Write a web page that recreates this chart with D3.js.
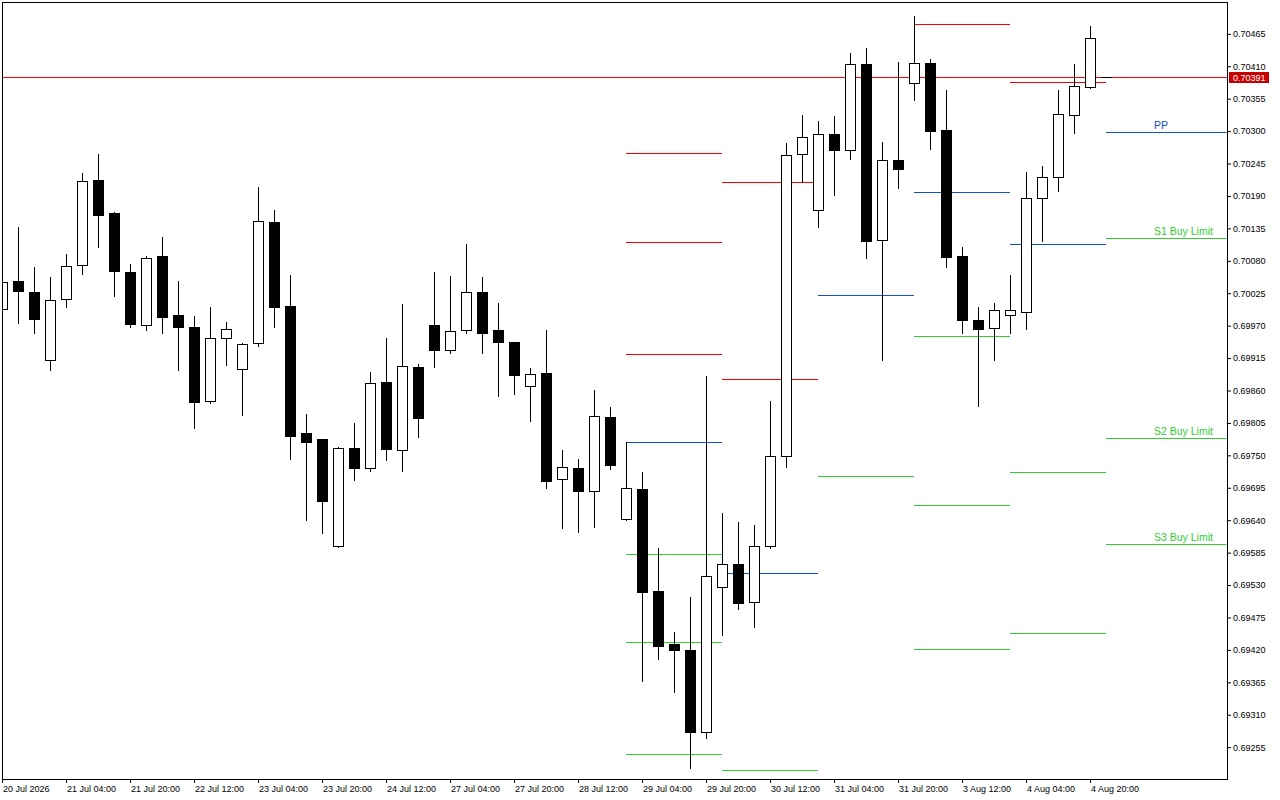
<!DOCTYPE html>
<html>
<head>
<meta charset="utf-8">
<script src="https://cdn.jsdelivr.net/npm/d3@7"></script>
<style>
html,body{margin:0;padding:0;background:#ffffff;}
svg{display:block;}
</style>
</head>
<body>
<svg id="chart" width="1280" height="800"></svg>
<script>
// ---------------- DATA ----------------
const tradingDays = ["20 Jul","21 Jul","22 Jul","23 Jul","24 Jul","27 Jul","28 Jul","29 Jul","30 Jul","31 Jul","3 Aug","4 Aug","5 Aug","6 Aug"];
const barHours = ["00:00","04:00","08:00","12:00","16:00","20:00"];

const open = [0.69998,0.70045,0.70027,0.69911,0.70015,0.70073,0.70217,0.70161,0.70061,0.69971,
0.70088,0.69988,0.69967,0.69842,0.69949,0.69896,0.69940,0.70145,0.70003,0.69788,
0.69777,0.69596,0.69762,0.69728,0.69874,0.69759,0.69900,0.69971,0.69928,0.69962,
0.70027,0.69962,0.69942,0.69867,0.69889,0.69710,0.69728,0.69689,0.69815,0.69642,
0.69693,0.69520,0.69430,0.69420,0.69280,0.69526,0.69566,0.69501,0.69596,0.69749,
0.70261,0.70166,0.70295,0.70268,0.70414,0.70115,0.70251,0.70381,0.70416,0.70302,
0.70088,0.69979,0.69966,0.69988,0.69994,0.70186,0.70222,0.70327,0.70375];

const high = [0.70048,0.70137,0.70070,0.70053,0.70091,0.70229,0.70262,0.70163,0.70074,0.70088,
0.70120,0.70045,0.69986,0.70001,0.69976,0.69940,0.70206,0.70166,0.70056,0.69820,
0.69778,0.69764,0.69805,0.69891,0.69949,0.70007,0.69905,0.70061,0.70054,0.70109,
0.70053,0.70009,0.69942,0.69898,0.69963,0.69759,0.69744,0.69861,0.69832,0.69772,
0.69722,0.69593,0.69451,0.69510,0.69885,0.69652,0.69637,0.69632,0.69842,0.70280,
0.70327,0.70317,0.70326,0.70433,0.70441,0.70282,0.70417,0.70495,0.70422,0.70370,
0.70104,0.70002,0.70009,0.70056,0.70231,0.70241,0.70370,0.70414,0.70478];

const low = [0.69995,0.69975,0.69958,0.69895,0.70002,0.70058,0.70104,0.70021,0.69968,0.69962,
0.69958,0.69895,0.69797,0.69839,0.69904,0.69819,0.69936,0.69968,0.69743,0.69641,
0.69619,0.69595,0.69709,0.69723,0.69742,0.69723,0.69781,0.69900,0.69923,0.69957,
0.69923,0.69850,0.69854,0.69808,0.69695,0.69626,0.69620,0.69629,0.69727,0.69641,
0.69368,0.69405,0.69348,0.69220,0.69270,0.69446,0.69490,0.69458,0.69592,0.69731,
0.70214,0.70138,0.70192,0.70252,0.70085,0.69911,0.70204,0.70352,0.70269,0.70070,
0.69958,0.69834,0.69911,0.69958,0.69965,0.70114,0.70199,0.70297,0.70373];

const close = [0.70044,0.70029,0.69982,0.70013,0.70071,0.70215,0.70157,0.70062,0.69973,0.70084,
0.69985,0.69967,0.69841,0.69949,0.69964,0.69939,0.70147,0.70001,0.69783,0.69773,
0.69672,0.69762,0.69728,0.69872,0.69760,0.69901,0.69814,0.69928,0.69961,0.70027,
0.69958,0.69943,0.69887,0.69888,0.69707,0.69730,0.69689,0.69816,0.69733,0.69694,
0.69519,0.69427,0.69419,0.69280,0.69545,0.69565,0.69500,0.69596,0.69749,0.70259,
0.70290,0.70295,0.70268,0.70413,0.70114,0.70251,0.70236,0.70415,0.70301,0.70087,
0.69979,0.69965,0.69996,0.69996,0.70186,0.70222,0.70329,0.70376,0.70458];

// daily pivot levels (null = outside the visible range)
const pivotDays = ["29 Jul","30 Jul","31 Jul","3 Aug","4 Aug","5 Aug"];
const r3 = [0.70263, null, null, null, null, null];
const r2 = [0.70112, 0.70214, null, null, null, null];
const r1 = [0.69922, 0.69879, null, 0.70481, 0.70383, null];
const pp = [0.69772, 0.69550, 0.70022, 0.70196, 0.70108, 0.70298];
const s1 = [0.69582, 0.69217, 0.69715, 0.69952, 0.69721, 0.70118];
const s2 = [0.69433, null, null, 0.69666, 0.69449, 0.69780];
const s3 = [0.69243, null, null, 0.69421, null, 0.69599];
const levelLabels = {pp:"PP", s1:"S1 Buy Limit", s2:"S2 Buy Limit", s3:"S3 Buy Limit"};
const labelTime = "5 Aug 12:00";

const currentPrice = 0.70391;
const priceRange = [0.69201, 0.70519];

const yTicks = [0.70465,0.70410,0.70355,0.70300,0.70245,0.70190,0.70135,0.70080,0.70025,0.69970,
0.69915,0.69860,0.69805,0.69750,0.69695,0.69640,0.69585,0.69530,0.69475,0.69420,0.69365,0.69310,0.69255];

const xTickTimes = ["20 Jul 12:00","21 Jul 04:00","21 Jul 20:00","22 Jul 12:00","23 Jul 04:00","23 Jul 20:00",
"24 Jul 12:00","27 Jul 04:00","27 Jul 20:00","28 Jul 12:00","29 Jul 04:00","29 Jul 20:00","30 Jul 12:00",
"31 Jul 04:00","31 Jul 20:00","3 Aug 12:00","4 Aug 04:00","4 Aug 20:00"];
const xTickLabels = ["20 Jul 2026","21 Jul 04:00","21 Jul 20:00","22 Jul 12:00","23 Jul 04:00","23 Jul 20:00",
"24 Jul 12:00","27 Jul 04:00","27 Jul 20:00","28 Jul 12:00","29 Jul 04:00","29 Jul 20:00","30 Jul 12:00",
"31 Jul 04:00","31 Jul 20:00","3 Aug 12:00","4 Aug 04:00","4 Aug 20:00"];

// ---------------- LAYOUT ----------------
const L = 2, T = 2, R = 1227, B = 779;
const RED = "#ff0000", BLUE = "#1450c8", GREEN = "#32cd32";
const FONT = "'Liberation Sans', Arial, sans-serif";

const allTimes = tradingDays.flatMap(d => barHours.map(h => d + " " + h));
const times = allTimes.slice(3, 3 + 77); // first visible bar: 20 Jul 12:00, plus future slots

const svg = d3.select("#chart");

const x = d3.scaleBand().domain(times).range([L - 7.5, L - 7.5 + 16 * times.length]).padding(0);
const cx = t => x(t) + x.bandwidth() / 2;
const y = d3.scaleLinear().domain(priceRange).range([B, T]);
const py = v => Math.round(y(v)) + 0.5;

svg.append("defs").append("clipPath").attr("id", "plotClip")
  .append("rect").attr("x", L).attr("y", T).attr("width", R - L).attr("height", B - T);

const plot = svg.append("g").attr("clip-path", "url(#plotClip)");

// current price line
plot.append("line")
  .attr("x1", L).attr("x2", R)
  .attr("y1", py(currentPrice)).attr("y2", py(currentPrice))
  .attr("stroke", RED).attr("stroke-width", 1);

// pivot lines
const levels = [
  {key:"r3", vals:r3, color:RED}, {key:"r2", vals:r2, color:RED}, {key:"r1", vals:r1, color:RED},
  {key:"pp", vals:pp, color:BLUE},
  {key:"s1", vals:s1, color:GREEN}, {key:"s2", vals:s2, color:GREEN}, {key:"s3", vals:s3, color:GREEN}
];
const pivotG = plot.append("g");
levels.forEach(lv => {
  lv.vals.forEach((v, d) => {
    if (v === null) return;
    const x1 = cx(pivotDays[d] + " 00:00");
    const x2 = d < pivotDays.length - 1 ? cx(pivotDays[d + 1] + " 00:00") : R;
    pivotG.append("line")
      .attr("x1", x1 - 0.5).attr("x2", x2 - 0.5)
      .attr("y1", py(v)).attr("y2", py(v))
      .attr("stroke", lv.color).attr("stroke-width", 1);
    if (d === pivotDays.length - 1 && levelLabels[lv.key]) {
      pivotG.append("text")
        .attr("x", cx(labelTime) - 0.5)
        .attr("y", py(v) - 3.5)
        .attr("font-family", FONT).attr("font-size", "10.5px")
        .attr("fill", lv.color)
        .text(levelLabels[lv.key]);
    }
  });
});

// candles
const idx = d3.range(open.length);
const candles = plot.append("g").selectAll("g").data(idx).join("g");
candles.append("line")
  .attr("x1", i => cx(times[i])).attr("x2", i => cx(times[i]))
  .attr("y1", i => py(high[i]) - 0.5).attr("y2", i => py(low[i]) + 0.5)
  .attr("stroke", "#000").attr("stroke-width", 1);
candles.append("rect")
  .attr("x", i => cx(times[i]) - 5)
  .attr("width", 10)
  .attr("y", i => Math.min(py(open[i]), py(close[i])))
  .attr("height", i => Math.max(1, Math.abs(py(open[i]) - py(close[i]))))
  .attr("fill", i => close[i] >= open[i] ? "#ffffff" : "#000000")
  .attr("stroke", "#000").attr("stroke-width", 1);

// small bid marker right of the last bar
const lastT = times[open.length - 1];
plot.append("line")
  .attr("x1", cx(lastT) + 10.5).attr("x2", cx(lastT) + 21.5)
  .attr("y1", py(currentPrice)).attr("y2", py(currentPrice))
  .attr("stroke", "#000").attr("stroke-width", 1);

// frame
svg.append("rect")
  .attr("x", L + 0.5).attr("y", T + 0.5)
  .attr("width", R - L).attr("height", B - T)
  .attr("fill", "none").attr("stroke", "#000").attr("stroke-width", 1);

// y axis
const yAxisG = svg.append("g").attr("transform", `translate(${R},0)`)
  .call(d3.axisRight(y).tickValues(yTicks).tickSize(4).tickPadding(2).tickFormat(d3.format(".5f")));
yAxisG.select(".domain").remove();
yAxisG.attr("font-family", FONT).attr("font-size", "9px");
yAxisG.selectAll("text").attr("fill", "#000");

// x axis
const xAxisG = svg.append("g").attr("transform", `translate(0,${B})`)
  .call(d3.axisBottom(x).tickValues(xTickTimes).tickSize(4).tickPadding(3)
    .tickFormat((d, i) => xTickLabels[i]));
xAxisG.select(".domain").remove();
xAxisG.attr("font-family", FONT).attr("font-size", "9px");
xAxisG.selectAll("text").attr("text-anchor", "start").attr("dx", "0.5").attr("fill", "#000");

// current price tag on axis
const tagY = py(currentPrice);
svg.append("rect")
  .attr("x", R + 2).attr("y", tagY - 5.5)
  .attr("width", 40).attr("height", 11)
  .attr("fill", "#c80000");
svg.append("text")
  .attr("x", R + 6).attr("y", tagY + 3)
  .attr("font-family", FONT).attr("font-size", "9px")
  .attr("fill", "#ffffff")
  .text(d3.format(".5f")(currentPrice));
</script>
</body>
</html>
